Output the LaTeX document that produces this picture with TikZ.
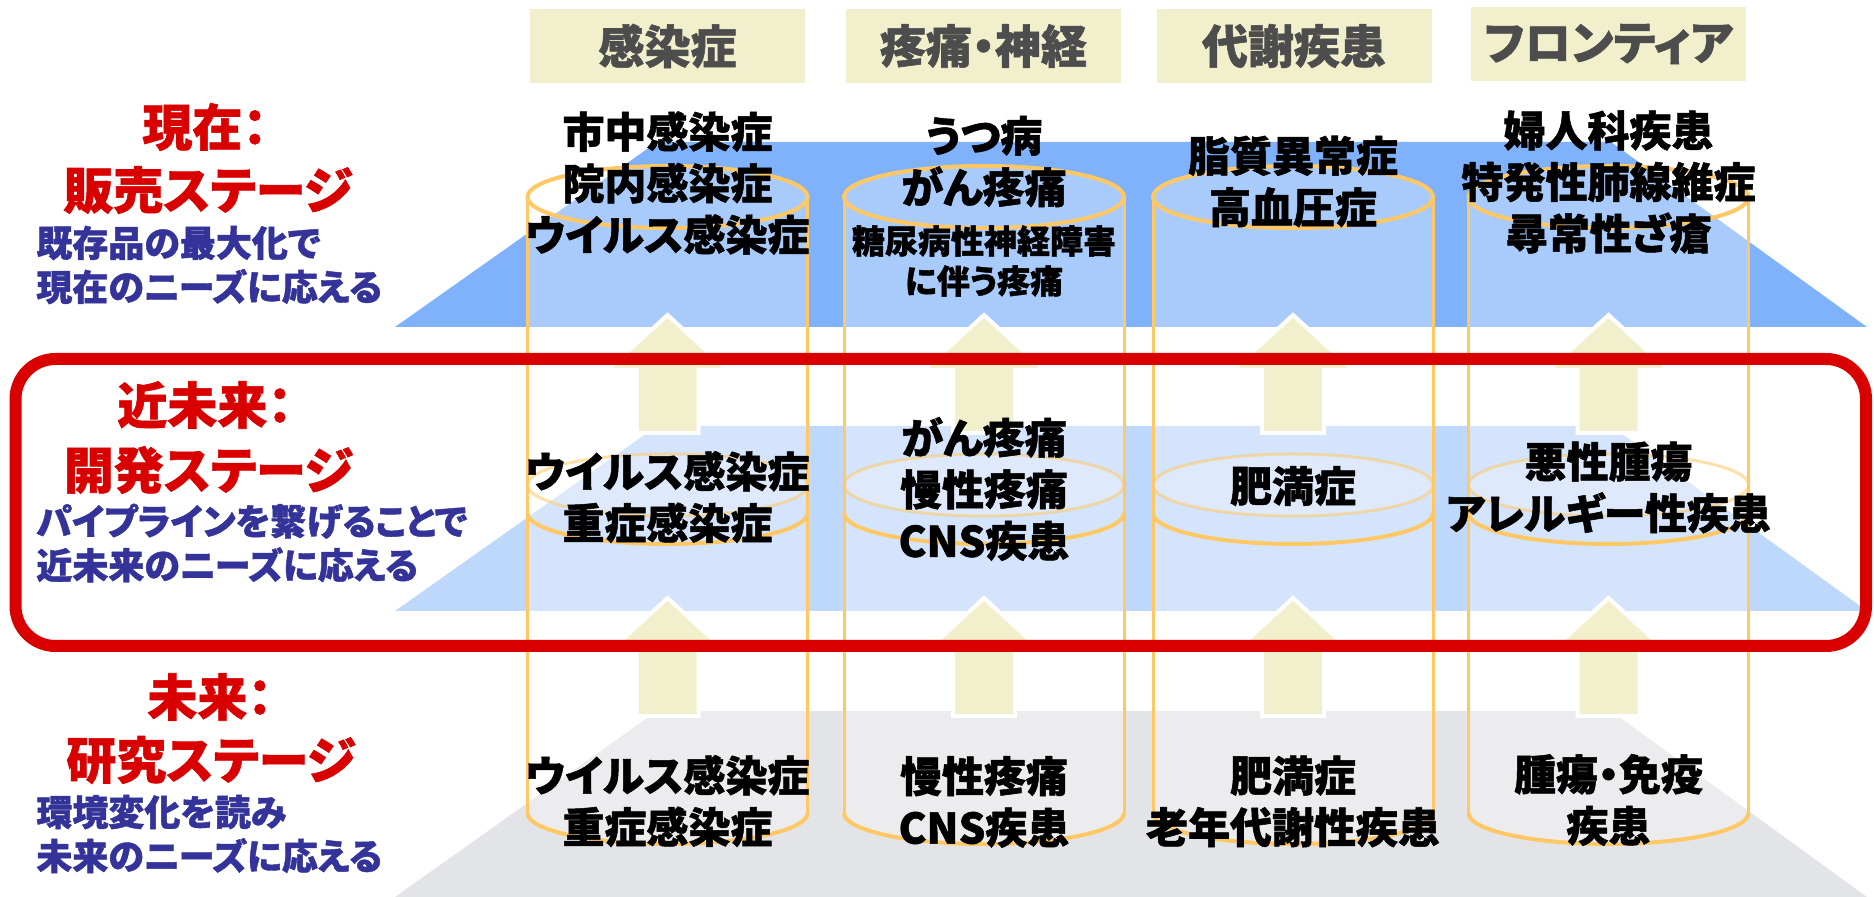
\documentclass[tikz,border=0pt]{standalone}
\usepackage{fontspec}
\setmainfont{Noto Sans CJK JP}[RawFeature=+palt,BoldFeatures={FakeBold=1.2}]
\definecolor{planeA}{RGB}{127,178,250}
\definecolor{planeB}{RGB}{190,216,251}
\definecolor{planeC}{RGB}{227,228,232}
\definecolor{beige}{RGB}{242,240,204}
\definecolor{cylor}{RGB}{255,200,100}
\definecolor{redlab}{RGB}{217,0,0}
\definecolor{navy}{RGB}{51,51,153}
\definecolor{hdrtxt}{RGB}{77,77,77}
\begin{document}
\begin{tikzpicture}[x=0.5pt,y=-0.5pt,
  cylbody/.style={fill=white,fill opacity=0.33},
  cylline/.style={draw=cylor,line width=1.5pt},
  cylrim/.style={draw=cylor,line width=2pt},
  diskrim/.style={draw=cylor,line width=1.5pt,draw opacity=0.55,fill=white,fill opacity=0.25},
  uparrow/.style={fill=beige,draw=white,line width=2pt,line join=miter},
  hdr/.style={fill=beige,minimum width=137.5pt,minimum height=37pt,inner sep=0pt,text=hdrtxt,font=\fontsize{23}{27}\selectfont\bfseries},
  coltxt/.style={inner sep=0pt,align=center,text=black,font=\fontsize{21}{25.75}\selectfont\bfseries},
  smalltxt/.style={inner sep=0pt,align=center,text=black,font=\fontsize{16.5}{20}\selectfont\bfseries},
  redlbl/.style={inner sep=0pt,text=redlab,font=\fontsize{25}{30}\selectfont\bfseries},
  bluelbl/.style={inner sep=0pt,anchor=west,align=left,text=navy,font=\fontsize{18}{22}\selectfont\bfseries},
  frame/.style={draw=redlab,line width=6pt,rounded corners=20pt}]
\useasboundingbox (0,0) rectangle (1874,897);
% planes
\fill[planeA] (657,142) -- (1611,142) -- (1867,327) -- (395,327) -- cycle;
\fill[planeB] (657,426) -- (1611,426) -- (1867,611) -- (395,611) -- cycle;
\fill[planeC] (657,711) -- (1611,711) -- (1867,897) -- (395,897) -- cycle;
% cylinders
\foreach \cx in {667.5,984,1293,1608.5}{
  \fill[cylbody] (\cx-140,197) -- (\cx-140,813)
     arc[start angle=180,end angle=0,x radius=140,y radius=31] -- (\cx+140,197)
     arc[start angle=0,end angle=-180,x radius=140,y radius=31] -- cycle;
  \path[diskrim] (\cx,485) ellipse[x radius=140,y radius=31];
  \draw[cylline] (\cx-140,197) -- (\cx-140,813);
  \draw[cylline] (\cx+140,197) -- (\cx+140,813);
  \draw[cylrim] (\cx-140,813) arc[start angle=180,end angle=0,x radius=140,y radius=31];
  \draw[cylrim] (\cx-140,513) arc[start angle=180,end angle=0,x radius=140,y radius=31];
  \draw[cylrim] (\cx,197) ellipse[x radius=140,y radius=31];
}
% arrows
\foreach \cx in {667.5,984,1293,1608.5}{
  \foreach \ty in {315,598}{
    \draw[uparrow] (\cx,\ty) -- (\cx+60,\ty+55) -- (\cx+31,\ty+55) -- (\cx+31,\ty+118)
      -- (\cx-31,\ty+118) -- (\cx-31,\ty+55) -- (\cx-60,\ty+55) -- cycle;
  }
}
% headers
\node[hdr] (h1) at (667.5,46) {感染症};
\node[hdr] (h2) at (983.5,46) {疼痛・神経};
\node[hdr] (h3) at (1294,46) {代謝疾患};
\node[hdr] (h4) at (1608.5,44) {フロンティア};
% column texts
\node[coltxt] (u1) at (667.5,183) {市中感染症\\院内感染症\\ウイルス感染症};
\node[coltxt] (m1) at (667.5,497) {ウイルス感染症\\重症感染症};
\node[coltxt] (l1) at (667.5,801) {ウイルス感染症\\重症感染症};
\node[coltxt] (u2a) at (984,161.5) {うつ病\\がん疼痛};
\node[smalltxt] (u2b) at (984,261) {糖尿病性神経障害\\に伴う疼痛};
\node[coltxt] (m2) at (984,489) {がん疼痛\\慢性疼痛\\CNS疾患};
\node[coltxt] (l2) at (984,802) {慢性疼痛\\CNS疾患};
\node[coltxt] (u3) at (1293,181.5) {脂質異常症\\高血圧症};
\node[coltxt] (m3) at (1293,486) {肥満症};
\node[coltxt] (l3) at (1293,801.5) {肥満症\\老年代謝性疾患};
\node[coltxt] (u4) at (1608.5,182) {婦人科疾患\\特発性肺線維症\\尋常性ざ瘡};
\node[coltxt] (m4) at (1608.5,487.5) {悪性腫瘍\\アレルギー性疾患};
\node[coltxt] (l4) at (1608.5,800) {腫瘍・免疫\\疾患};
% left labels
\node[redlbl,anchor=west] (now1) at (142,127) {現在：};
\node[redlbl] (now2) at (208,190) {販売ステージ};
\node[bluelbl] (now3) at (36,265) {既存品の最大化で\\現在のニーズに応える};
\node[redlbl,anchor=west] (near1) at (117,405) {近未来：};
\node[redlbl] (near2) at (208.5,470) {開発ステージ};
\node[bluelbl] (near3) at (36,543) {パイプラインを繋げることで\\近未来のニーズに応える};
\node[redlbl,anchor=west] (fut1) at (147,697) {未来：};
\node[redlbl] (fut2) at (211,760) {研究ステージ};
\node[bluelbl] (fut3) at (36,834) {環境変化を読み\\未来のニーズに応える};
% red frame
\draw[frame] (15.5,359) rectangle (1866,646);
\end{tikzpicture}
\end{document}
